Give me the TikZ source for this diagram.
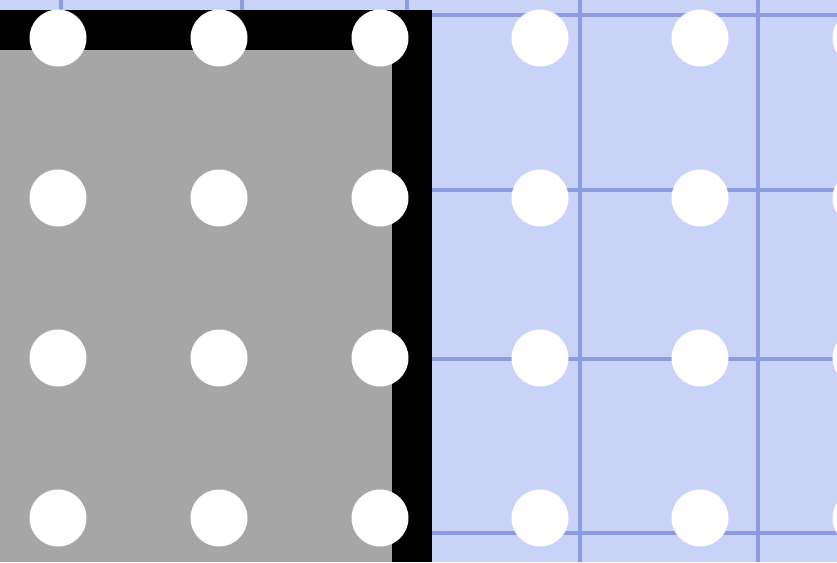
\documentclass[tikz,border=0pt]{standalone}
\definecolor{bgblue}{RGB}{201,210,247}
\definecolor{gridblue}{RGB}{140,156,226}
\definecolor{panelgray}{RGB}{166,166,166}
\tikzset{
  gridline/.style={draw=gridblue, line width=4.5pt},
  dot/.style={circle, fill=white, draw=none, minimum size=57pt, inner sep=0pt},
}
\begin{document}
\begin{tikzpicture}[x={(1pt,0)}, y={(0,-1pt)}]
\useasboundingbox (0,0) rectangle (837,562);
\fill[bgblue] (0,0) rectangle (837,562);
% grid lines
\foreach \gx in {61,242,407,580,758}
  \draw[gridline] (\gx,0) -- (\gx,562);
\foreach \gy in {15,190,359,533}
  \draw[gridline] (0,\gy) -- (837,\gy);
% gray panel with black border on top and right
\fill[black] (0,10) rectangle (432,562);
\fill[panelgray] (0,50) rectangle (392,562);
% dots
\foreach \cx [count=\i] in {58,219,380,540,700,861}
  \foreach \cy [count=\j] in {38,198,358,518}
    \node[dot] (d-\i-\j) at (\cx,\cy) {};
\end{tikzpicture}
\end{document}
